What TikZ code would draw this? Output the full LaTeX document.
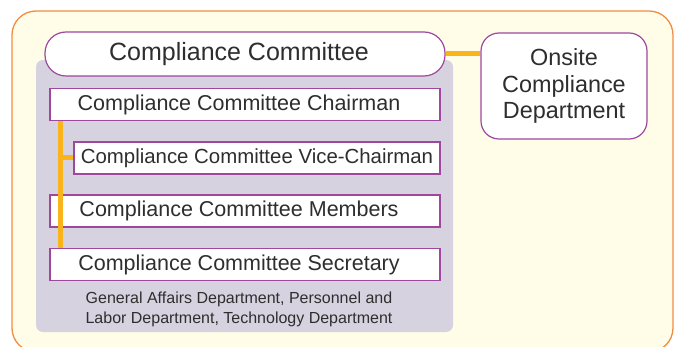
\documentclass[tikz,border=0pt]{standalone}
\usepackage{fontspec}
\setmainfont{Liberation Sans}
\definecolor{framecol}{HTML}{F28C42}
\definecolor{paper}{HTML}{FFFDE8}
\definecolor{panelcol}{HTML}{D6D2E0}
\definecolor{boxline}{HTML}{9E479E}
\definecolor{linkcol}{HTML}{F8B41A}
\definecolor{inkcol}{HTML}{2E2E2E}
\newcommand\padright{\kern12pt}

\begin{document}
\begin{tikzpicture}[x=1pt,y=-1pt]
  \tikzstyle{pill}=[draw=boxline,fill=white,line width=1.2pt,rounded corners=21pt,minimum width=400pt,minimum height=44pt,text=inkcol,font=\fontsize{25}{28}\selectfont]
  \tikzstyle{dept}=[draw=boxline,fill=white,line width=1.2pt,rounded corners=18pt,minimum width=166pt,minimum height=106pt,text=inkcol,align=center,font=\fontsize{23.4}{26.5}\selectfont]
  \tikzstyle{member}=[draw=boxline,fill=white,line width=1.2pt,minimum height=32pt,inner sep=0pt,text=inkcol,font=\fontsize{21.5}{24}\selectfont]
  \tikzstyle{link}=[draw=linkcol,line width=5pt]
  \useasboundingbox (0,0) rectangle (677,347);

  % background frame and panel
  \draw[framecol,fill=paper,line width=1.3pt,rounded corners=24pt] (12,11) rectangle (673,352);
  \fill[panelcol,rounded corners=7pt] (36,60) rectangle (453,332);

  \node[pill] (committee) at (245,54) {\raisebox{-2pt}{Compliance Committee}\padright};
  \node[dept] (onsite) at (564,86) {Onsite\\Compliance\\Department};

  \node[member,minimum width=390pt] (chairman) at (245,104.5) {Compliance Committee Chairman\padright};
  \node[member,minimum width=366pt,font=\fontsize{20.4}{24}\selectfont] (vice) at (257,158) {Compliance Committee Vice-Chairman};
  \node[member,minimum width=390pt] (members) at (245,211) {Compliance Committee Members\padright};
  \node[member,minimum width=390pt] (secretary) at (245,264.5) {Compliance Committee Secretary\padright};

  \node[text=inkcol,align=center,font=\fontsize{16}{20}\selectfont] (note) at (239,309)
    {General Affairs Department, Personnel and\\Labor Department, Technology Department};

  \coordinate (spine) at ([xshift=11pt]chairman.south west);

  \draw[link] (committee.east) -- (committee.east -| onsite.west);
  \draw[link] (spine) -- (spine |- secretary.north);
  \draw[link] (spine |- vice.west) -- (vice.west);
\end{tikzpicture}
\end{document}
